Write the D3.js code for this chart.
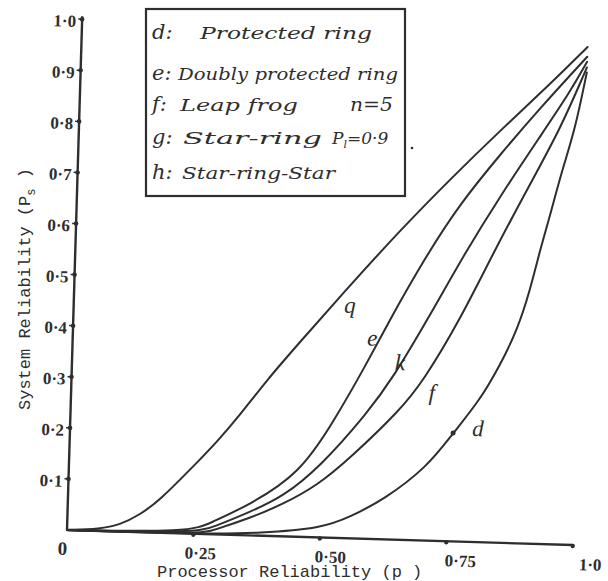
<!DOCTYPE html>
<html><head><meta charset="utf-8">
<script src="https://cdn.jsdelivr.net/npm/d3@7"></script>
<style>body{margin:0;background:#fff}</style>
</head><body>
<svg id="c" width="608" height="581"></svg>
<script>
// ---- data ----
const xTicks = [0.25, 0.5, 0.75, 1.0];
const xTickLabels = ["0·25", "0·50", "0·75", "1·0"];
const yTicks = [0.1, 0.2, 0.3, 0.4, 0.5, 0.6, 0.7, 0.8, 0.9, 1.0];
const yTickLabels = ["0·1", "0·2", "0·3", "0·4", "0·5", "0·6", "0·7", "0·8", "0·9", "1·0"];

const gX = [0, 0.065, 0.104, 0.143, 0.182, 0.245, 0.291, 0.335, 0.386, 0.449, 0.532, 0.640, 0.736, 0.832, 0.928, 1.0];
const gY = [0, 0.004, 0.013, 0.034, 0.064, 0.131, 0.181, 0.235, 0.305, 0.381, 0.480, 0.605, 0.708, 0.806, 0.900, 0.975];

const eX = [0, 0.243, 0.282, 0.360, 0.457, 0.519, 0.583, 0.620, 0.695, 0.758, 0.834, 0.910, 1.0];
const eY = [0, 0.003, 0.022, 0.060, 0.125, 0.225, 0.344, 0.420, 0.560, 0.662, 0.760, 0.853, 0.956];

const hX = [0, 0.253, 0.288, 0.361, 0.425, 0.496, 0.586, 0.635, 0.705, 0.770, 0.836, 0.912, 0.968, 1.0];
const hY = [0, 0.002, 0.014, 0.046, 0.078, 0.138, 0.246, 0.316, 0.442, 0.565, 0.678, 0.798, 0.886, 0.946];

const fX = [0, 0.263, 0.289, 0.361, 0.425, 0.491, 0.555, 0.651, 0.695, 0.764, 0.825, 0.894, 0.951, 1.0];
const fY = [0, 0, 0.008, 0.034, 0.063, 0.101, 0.157, 0.254, 0.312, 0.434, 0.565, 0.703, 0.813, 0.935];

const dX = [0, 0.263, 0.382, 0.506, 0.558, 0.623, 0.708, 0.757, 0.808, 0.846, 0.878, 0.901, 0.918, 0.936, 0.957, 0.980, 1.0];
const dY = [0, 0, 0.005, 0.019, 0.042, 0.077, 0.144, 0.212, 0.278, 0.348, 0.418, 0.497, 0.575, 0.644, 0.733, 0.812, 0.925];

const curveKeys = ["g", "e", "h", "f", "d"];
const curveLabelText = ["q", "e", "k", "f", "d"];
const curveLabelX = [0.546, 0.592, 0.648, 0.713, 0.806];
const curveLabelY = [0.457, 0.394, 0.348, 0.291, 0.223];

const legendKeys = ["d:", "e:", "f:", "g:", "h:"];
const legendNames = ["Protected ring", "Doubly protected ring", "Leap frog", "Star-ring", "Star-ring-Star"];

// ---- layout ----
const ox = 67, oy = 530, angle = 1.7;
const svg = d3.select("#c");
const ink = "#2e2e2e";

const x = d3.scaleLinear().domain([0, 1]).range([0, 506]);
const y = d3.scaleLinear().domain([0, 1]).range([0, -511]);
const xl = d3.scaleLinear().domain([0.25, 1]).range([134, 524]);

const g = svg.append("g").attr("transform", `translate(${ox},${oy}) rotate(${angle})`);

// axes
g.append("line").attr("x1", x(0)).attr("y1", y(0)).attr("x2", x(1)).attr("y2", y(0))
  .attr("stroke", ink).attr("stroke-width", 2.4);
g.append("line").attr("x1", x(0)).attr("y1", y(0)).attr("x2", x(0)).attr("y2", y(1) - 3)
  .attr("stroke", ink).attr("stroke-width", 2.4);

// y ticks
g.selectAll(".yt").data(yTicks).join("circle")
  .attr("cx", x(0)).attr("cy", d => y(d)).attr("r", 2.3).attr("fill", ink);
g.selectAll(".ytm").data(yTicks).join("line")
  .attr("x1", x(0) - 4).attr("x2", x(0)).attr("y1", d => y(d)).attr("y2", d => y(d))
  .attr("stroke", ink).attr("stroke-width", 1.5);
g.selectAll(".ytl").data(yTicks).join("text")
  .attr("x", x(0) - 6).attr("y", d => y(d) + 8)
  .attr("text-anchor", "end")
  .attr("font-family", "Liberation Serif").attr("font-weight", "bold")
  .attr("font-size", 17).attr("fill", ink)
  .text((d, i) => yTickLabels[i]);

// x ticks
g.selectAll(".xt").data(xTicks).join("circle")
  .attr("cx", d => x(d)).attr("cy", y(0) + 1).attr("r", 2.2).attr("fill", ink);
g.selectAll(".xtl").data(xTicks).join("text")
  .attr("x", d => xl(d)).attr("y", y(0) + 25)
  .attr("text-anchor", "middle")
  .attr("font-family", "Liberation Serif").attr("font-weight", "bold")
  .attr("font-size", 17).attr("fill", ink)
  .text((d, i) => xTickLabels[i]);
g.append("text").attr("x", x(0) - 4).attr("y", y(0) + 25).attr("text-anchor", "middle")
  .attr("font-family", "Liberation Serif").attr("font-weight", "bold").attr("font-size", 19)
  .attr("fill", ink).text("0");

// curves
const series = { g: [gX, gY], e: [eX, eY], h: [hX, hY], f: [fX, fY], d: [dX, dY] };
const line = d3.line().x(p => x(p[0])).y(p => y(p[1])).curve(d3.curveBasis);
curveKeys.forEach(k => {
  const [xs, ys] = series[k];
  g.append("path").datum(xs.map((v, i) => [v, ys[i]]))
    .attr("d", line).attr("fill", "none").attr("stroke", ink)
    .attr("stroke-width", 2).attr("stroke-linejoin", "round").attr("stroke-linecap", "round");
});

// curve labels
g.selectAll(".cl").data(curveKeys).join("text")
  .attr("x", (d, i) => x(curveLabelX[i])).attr("y", (d, i) => y(curveLabelY[i]))
  .attr("dy", "0.35em").attr("text-anchor", "middle")
  .attr("font-family", "Liberation Serif").attr("font-style", "italic")
  .attr("font-size", 23).attr("fill", ink)
  .text((d, i) => curveLabelText[i]);
g.append("circle").attr("cx", x(dX[7])).attr("cy", y(dY[7])).attr("r", 2.5).attr("fill", ink);

// axis titles
svg.append("text").attr("transform", "translate(30,410) rotate(-90)")
  .attr("font-family", "Liberation Mono").attr("font-size", 17).attr("fill", ink)
  .html('System Reliability (P<tspan dy="5" font-size="12">s</tspan><tspan dy="-5"> )</tspan>');
svg.append("text").attr("x", 157).attr("y", 577)
  .attr("font-family", "Liberation Mono").attr("font-size", 17).attr("fill", ink)
  .text("Processor Reliability (p )");

// legend
const lg = svg.append("g");
lg.append("rect").attr("x", 146).attr("y", 9).attr("width", 259).attr("height", 187)
  .attr("fill", "none").attr("stroke", ink).attr("stroke-width", 2.2);
svg.append("circle").attr("cx", 412).attr("cy", 148).attr("r", 1.3).attr("fill", ink);
const rowY = [39, 80, 111, 144, 179];
const nameStart = [200, 178, 180, 183, 182];
const nameEnd = [372, 398, 298, 322, 335];
const font = sel => sel.attr("font-family", "DejaVu Serif").attr("font-style", "italic").attr("fill", ink);
legendKeys.forEach((k, i) => {
  lg.append("text").attr("x", 152).attr("y", rowY[i]).call(font).attr("font-size", 21).text(k);
  lg.append("text").attr("x", nameStart[i]).attr("y", rowY[i]).call(font).attr("font-size", 17)
    .attr("textLength", nameEnd[i] - nameStart[i]).attr("lengthAdjust", "spacingAndGlyphs")
    .text(legendNames[i]);
});
lg.append("text").attr("x", 350).attr("y", rowY[2]).call(font).attr("font-size", 18)
  .attr("textLength", 43).attr("lengthAdjust", "spacingAndGlyphs").text("n=5");
lg.append("text").attr("x", 332).attr("y", rowY[3]).call(font).attr("font-size", 17)
  .html('P<tspan dy="4" font-size="11">l</tspan><tspan dy="-4">=0·9</tspan>');
</script>
</body></html>
